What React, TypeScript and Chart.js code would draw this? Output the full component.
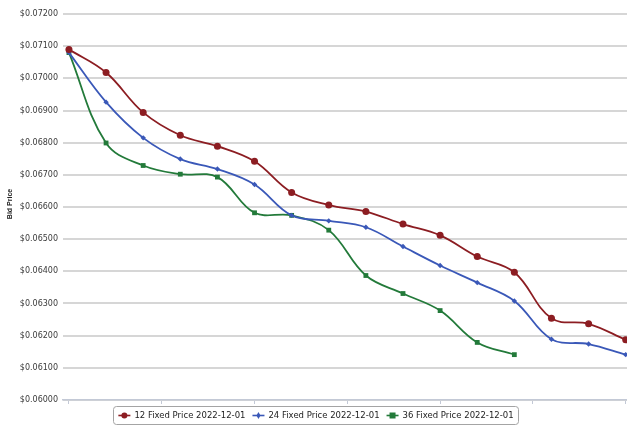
import React, { useEffect, useRef } from "react";
import { Chart, registerables } from "chart.js";

Chart.register(...registerables);

// contract periods (x positions, one per delivery month)
const periods = [0, 1, 2, 3, 4, 5, 6, 7, 8, 9, 10, 11, 12, 13, 14, 15];
const seriesNames = [
  "12 Fixed Price 2022-12-01",
  "24 Fixed Price 2022-12-01",
  "36 Fixed Price 2022-12-01",
];
const bid12 = [0.0709, 0.07018, 0.06894, 0.06823, 0.06789, 0.06742, 0.06645, 0.06606, 0.06586, 0.06547, 0.06512, 0.06446, 0.06397, 0.06254, 0.06237, 0.06187];
const bid24 = [0.0708, 0.06926, 0.06815, 0.06749, 0.06718, 0.0667, 0.06574, 0.06557, 0.06537, 0.06477, 0.06418, 0.06365, 0.06308, 0.06189, 0.06174, 0.06141];
const bid36 = [0.0708, 0.06799, 0.06729, 0.06702, 0.06693, 0.06582, 0.06574, 0.06528, 0.06387, 0.06331, 0.06278, 0.06179, 0.06141, null, null, null];
const yMin = 0.06;
const yMax = 0.072;
const yStep = 0.001;
const yTitle = "Bid Price";

const colors = ["#8c1d22", "#3a58b8", "#237a3a"];
const pointStyles = ["circle", "rectRot", "rect"];
const pointRadii = [3.5, 2.7, 3.4];

const overlayPlugin = {
  id: "overlay",
  afterDraw(chart: any) {
    const ctx = chart.ctx;
    ctx.save();
    // y-axis title
    ctx.font = 'bold 7px "Liberation Sans"';
    ctx.fillStyle = "#222";
    ctx.textAlign = "center";
    ctx.textBaseline = "middle";
    ctx.translate(10, (chart.chartArea.top + chart.chartArea.bottom) / 2 - 3);
    ctx.rotate(-Math.PI / 2);
    ctx.fillText(yTitle, 0, 0);
    ctx.restore();

    // legend
    ctx.save();
    ctx.font = '8.5px "DejaVu Sans"';
    const ds = chart.data.datasets;
    const widths = ds.map((d: any) => ctx.measureText(d.label).width);
    const markerW = 12, gapMT = 4, gapItems = 7, pad = 5;
    let total = pad * 2 + gapItems * (ds.length - 1);
    widths.forEach((w: number) => (total += markerW + gapMT + w));
    const cx = 316;
    const left = cx - total / 2;
    const top = 406.5;
    const h = 18;
    ctx.strokeStyle = "#a4a4a4";
    ctx.lineWidth = 1;
    ctx.beginPath();
    (ctx as any).roundRect(Math.round(left) + 0.5, top, Math.round(total), h, 3);
    ctx.stroke();
    let x = left + pad;
    const cy = top + h / 2;
    ds.forEach((d: any, i: number) => {
      ctx.strokeStyle = colors[i];
      ctx.fillStyle = colors[i];
      ctx.lineWidth = 1.6;
      ctx.beginPath();
      ctx.moveTo(x, cy);
      ctx.lineTo(x + markerW, cy);
      ctx.stroke();
      const mx = x + markerW / 2;
      ctx.beginPath();
      if (pointStyles[i] === "circle") {
        ctx.arc(mx, cy, 3, 0, Math.PI * 2);
      } else if (pointStyles[i] === "rectRot") {
        ctx.moveTo(mx, cy - 3.5);
        ctx.lineTo(mx + 2, cy);
        ctx.lineTo(mx, cy + 3.5);
        ctx.lineTo(mx - 2, cy);
        ctx.closePath();
      } else {
        ctx.rect(mx - 3, cy - 3, 6, 6);
      }
      ctx.fill();
      x += markerW + gapMT;
      ctx.fillStyle = "#222";
      ctx.textAlign = "left";
      ctx.textBaseline = "middle";
      ctx.fillText(d.label, x, cy + 0.5);
      x += widths[i] + gapItems;
    });
    ctx.restore();
  },
};

export default function App() {
  const ref = useRef<HTMLCanvasElement | null>(null);
  useEffect(() => {
    if (!ref.current) return;
    const series = [bid12, bid24, bid36];
    const chart = new Chart(ref.current, {
      type: "line",
      data: {
        datasets: series.map((vals, i) => ({
          label: seriesNames[i],
          data: periods.map((p, j) => ({ x: p, y: vals[j] })),
          borderColor: colors[i],
          backgroundColor: colors[i],
          borderWidth: 1.8,
          pointStyle: pointStyles[i] as any,
          pointRadius: pointRadii[i],
          pointBorderWidth: 0,
          tension: 0.38,
          fill: false,
          spanGaps: false,
        })),
      },
      options: {
        animation: false,
        responsive: false,
        devicePixelRatio: 1,
        layout: { autoPadding: false, padding: { top: 14, left: 0, right: 0, bottom: 0 } },
        plugins: { legend: { display: false }, tooltip: { enabled: false } },
        scales: {
          x: {
            type: "linear",
            min: -0.16,
            max: 15.035,
            ticks: { display: false, stepSize: 2.5, includeBounds: false },
            grid: { drawOnChartArea: false, drawTicks: true, tickLength: 4, color: "#c3c9d6" },
            border: { display: true, color: "#c3c9d6", width: 1.5 },
            afterFit: (s: any) => {
              s.height = 26;
            },
          },
          y: {
            min: yMin,
            max: yMax,
            ticks: {
              stepSize: yStep,
              padding: 5,
              color: "#3a3a3a",
              font: { family: '"DejaVu Sans"', size: 8 },
              callback: (v: any) => "$" + Number(v).toFixed(5),
            },
            grid: { color: "#d6d6d6", lineWidth: 2, drawTicks: false, tickLength: 0 },
            border: { display: false },
            afterFit: (s: any) => {
              s.width = 63;
            },
          },
        },
      },
      plugins: [overlayPlugin],
    });
    return () => chart.destroy();
  }, []);
  return (
    <div style={{ position: "absolute", left: 0, top: 0, width: 627, height: 426, background: "#fff" }}>
      <canvas ref={ref} width={627} height={426} />
    </div>
  );
}
